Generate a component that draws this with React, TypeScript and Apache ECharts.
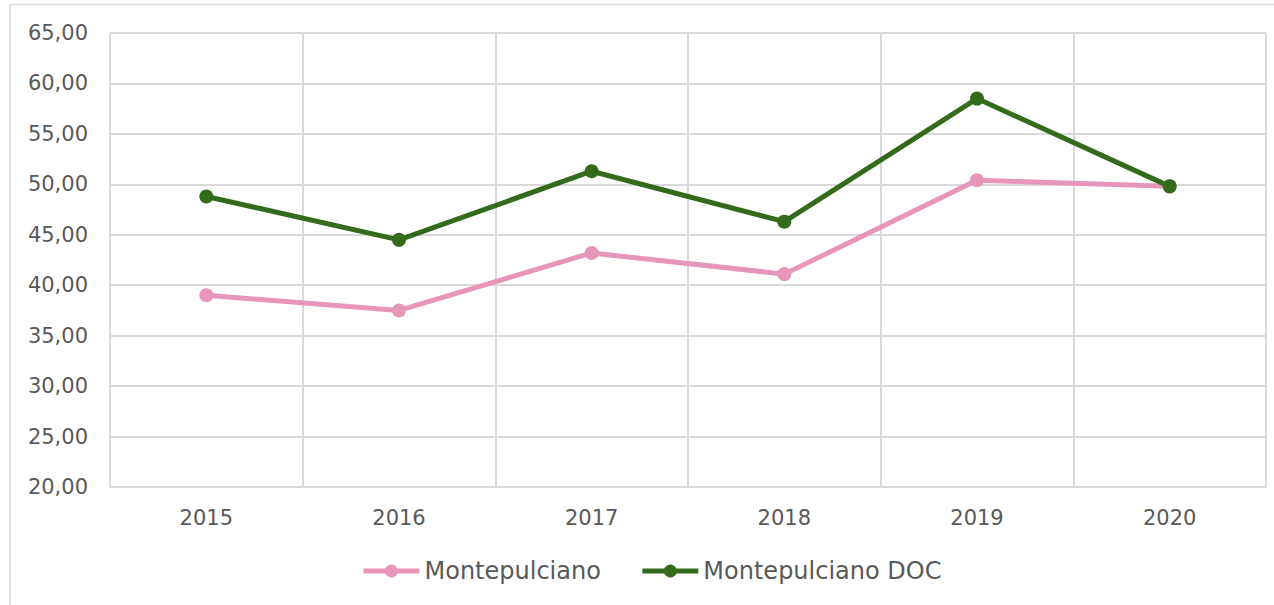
import React, { useEffect, useRef } from "react";
import * as echarts from "echarts";

const years = ["2015", "2016", "2017", "2018", "2019", "2020"];
const montepulciano = [39.0, 37.5, 43.2, 41.1, 50.4, 49.8];
const montepulcianoDoc = [48.8, 44.5, 51.3, 46.3, 58.5, 49.8];
const seriesNames = ["Montepulciano", "Montepulciano DOC"];

const FONT = "DejaVu Sans";
const GRID = "#D9D9D9";
const TXT = "#595959";

export default function App() {
  const ref = useRef<HTMLDivElement>(null);
  useEffect(() => {
    if (!ref.current) return;
    const chart = echarts.init(ref.current, null, { renderer: "svg" });
    chart.setOption({
      animation: false,
      backgroundColor: "#ffffff",
      graphic: [
        {
          type: "rect",
          shape: { x: 10, y: 4.5, width: 1400, height: 800 },
          style: { fill: "none", stroke: GRID, lineWidth: 1.5 },
          silent: true,
          z: -1,
        },
      ],
      grid: { left: 110, right: 8, top: 33, bottom: 118 },
      legend: {
        data: seriesNames,
        left: 356,
        top: 554,
        itemWidth: 56,
        itemHeight: 16,
        itemGap: 39,
        lineStyle: { width: 5 },
        textStyle: { fontFamily: FONT, fontSize: 24, color: TXT },
      },
      xAxis: {
        type: "category",
        data: years,
        boundaryGap: true,
        axisLine: { show: true, lineStyle: { color: GRID, width: 2 } },
        axisTick: { show: false },
        splitLine: { show: true, lineStyle: { color: GRID, width: 2 } },
        axisLabel: { fontFamily: FONT, fontSize: 21, color: TXT, margin: 20 },
      },
      yAxis: {
        type: "value",
        min: 20,
        max: 65,
        interval: 5,
        axisLine: { show: false },
        axisTick: { show: false },
        splitLine: { show: true, lineStyle: { color: GRID, width: 2 } },
        axisLabel: {
          fontFamily: FONT,
          fontSize: 21,
          color: TXT,
          margin: 22,
          formatter: (v: number) => v.toFixed(2).replace(".", ","),
        },
      },
      series: [
        {
          name: seriesNames[0],
          type: "line",
          data: montepulciano,
          symbol: "circle",
          symbolSize: 14,
          lineStyle: { color: "#E796B9", width: 5 },
          itemStyle: { color: "#E796B9" },
        },
        {
          name: seriesNames[1],
          type: "line",
          data: montepulcianoDoc,
          symbol: "circle",
          symbolSize: 14,
          lineStyle: { color: "#336A1B", width: 5 },
          itemStyle: { color: "#336A1B" },
        },
      ],
    });
    return () => chart.dispose();
  }, []);
  return (
    <div
      ref={ref}
      style={{ position: "fixed", left: 0, top: 0, width: 1274, height: 605 }}
    />
  );
}
